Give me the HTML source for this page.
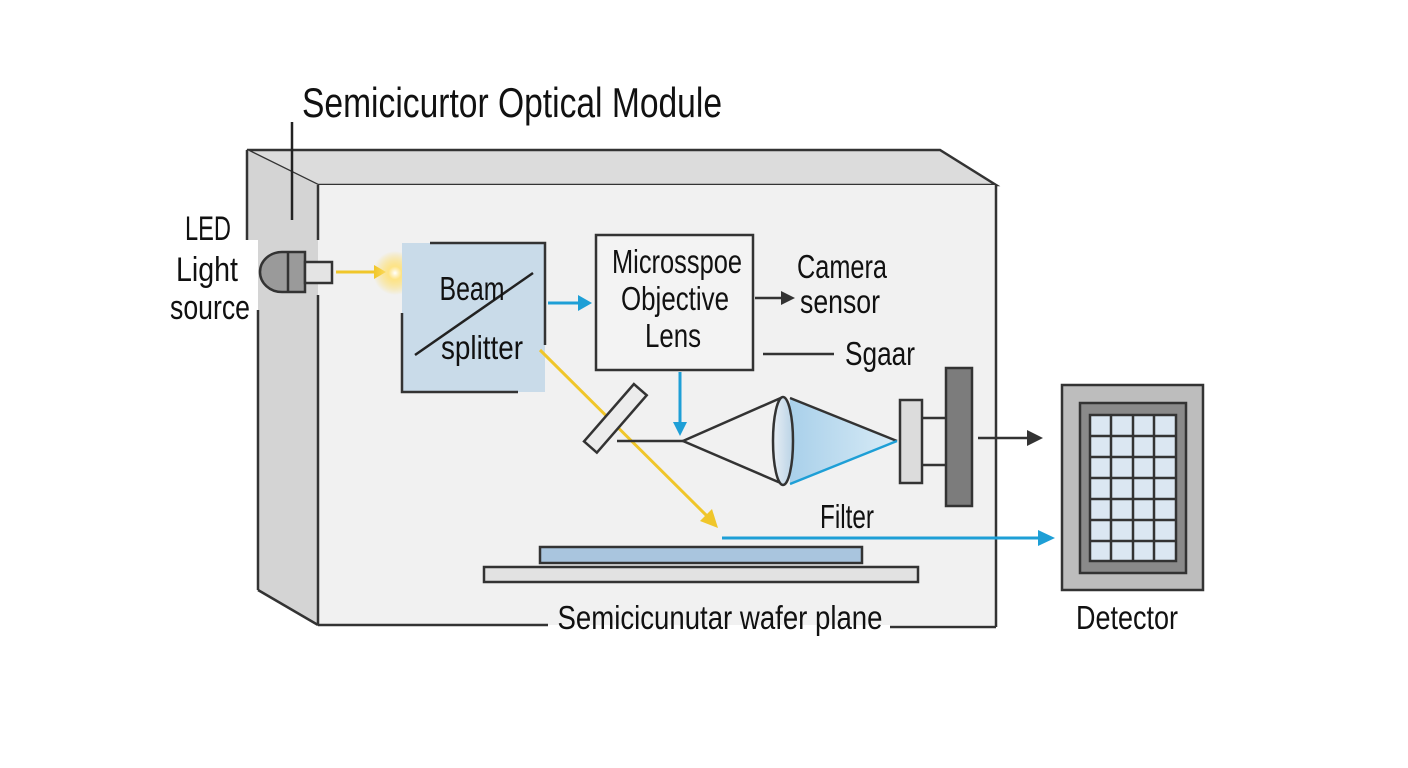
<!DOCTYPE html>
<html><head><meta charset="utf-8"><style>
html,body{margin:0;padding:0;background:#fff;}
svg{display:block;}
text{font-family:"Liberation Sans",sans-serif;fill:#111;}
</style></head><body>
<svg width="1408" height="768" viewBox="0 0 1408 768" xmlns="http://www.w3.org/2000/svg">
<defs>
<radialGradient id="glow" cx="0.5" cy="0.5" r="0.5">
<stop offset="0" stop-color="#fff"/><stop offset="0.3" stop-color="#ffe27a" stop-opacity="0.9"/><stop offset="1" stop-color="#ffd84a" stop-opacity="0"/>
</radialGradient>
<linearGradient id="cone" x1="0" x2="1"><stop offset="0" stop-color="#a9d0ea"/><stop offset="1" stop-color="#d8ebf6"/></linearGradient>
<linearGradient id="lens" x1="0" x2="1"><stop offset="0" stop-color="#e8eef4"/><stop offset="1" stop-color="#b9d3e6"/></linearGradient>
</defs>
<polygon points="247,150 940,150 996,185 318,185" fill="#dcdcdc" stroke="#333" stroke-width="2.5"/>
<polygon points="247,150 318,185 318,625 258,590 258,240 247,240" fill="#d4d4d4"/>
<line x1="247" y1="150" x2="247" y2="240" stroke="#333" stroke-width="2.5"/>
<line x1="258" y1="310" x2="258" y2="590" stroke="#333" stroke-width="2.5"/>
<line x1="258" y1="590" x2="318" y2="625" stroke="#333" stroke-width="2.5"/>
<rect x="318" y="185" width="678" height="440" fill="#f1f1f1"/>
<line x1="318" y1="185" x2="318" y2="240" stroke="#333" stroke-width="2.5"/>
<line x1="318" y1="295" x2="318" y2="625" stroke="#333" stroke-width="2.5"/>
<line x1="996" y1="185" x2="996" y2="627" stroke="#333" stroke-width="2.5"/>
<line x1="318" y1="625" x2="548" y2="625" stroke="#333" stroke-width="2.5"/>
<line x1="890" y1="627" x2="996" y2="627" stroke="#333" stroke-width="2.5"/>
<line x1="292" y1="122" x2="292" y2="220" stroke="#222" stroke-width="2.5"/>
<text x="302" y="117" font-size="42" textLength="420" lengthAdjust="spacingAndGlyphs">Semicicurtor Optical Module</text>
<rect x="165" y="240" width="93" height="70" fill="#fff"/>
<text x="208" y="240" font-size="34" text-anchor="middle" textLength="46" lengthAdjust="spacingAndGlyphs">LED</text>
<text x="207" y="281" font-size="34" text-anchor="middle" textLength="62" lengthAdjust="spacingAndGlyphs">Light</text>
<text x="210" y="319" font-size="34" text-anchor="middle" textLength="80" lengthAdjust="spacingAndGlyphs">source</text>
<path d="M305,252 L282,252 A22,20 0 0 0 282,292 L305,292 Z" fill="#9a9a9a" stroke="#333" stroke-width="2.5"/>
<line x1="288" y1="252" x2="288" y2="292" stroke="#333" stroke-width="2.5"/>
<rect x="305" y="262" width="27" height="21" fill="#e4e4e4" stroke="#333" stroke-width="2.5"/>
<line x1="336" y1="272" x2="376" y2="272" stroke="#f0c62a" stroke-width="3"/>
<polygon points="386,272 374,265 374,279" fill="#f0c62a"/>
<circle cx="395" cy="273" r="22" fill="url(#glow)"/>
<rect x="402" y="243" width="143" height="149" fill="#c9dbe9"/>
<polyline points="430,243 545,243 545,345" fill="none" stroke="#333" stroke-width="2.5"/>
<polyline points="402,313 402,392 518,392" fill="none" stroke="#333" stroke-width="2.5"/>
<line x1="415" y1="355" x2="533" y2="273" stroke="#222" stroke-width="2.5"/>
<text x="472" y="300" font-size="33" text-anchor="middle" textLength="65" lengthAdjust="spacingAndGlyphs">Beam</text>
<text x="482" y="359" font-size="33" text-anchor="middle" textLength="82" lengthAdjust="spacingAndGlyphs">splitter</text>
<line x1="548" y1="303" x2="580" y2="303" stroke="#1e9fd6" stroke-width="3"/>
<polygon points="592,303 578,295 578,311" fill="#1e9fd6"/>
<rect x="596" y="235" width="157" height="135" fill="#f3f3f3" stroke="#333" stroke-width="2.5"/>
<text x="677" y="273" font-size="33" text-anchor="middle" textLength="130" lengthAdjust="spacingAndGlyphs">Microsspoe</text>
<text x="675" y="310" font-size="33" text-anchor="middle" textLength="108" lengthAdjust="spacingAndGlyphs">Objective</text>
<text x="673" y="347" font-size="33" text-anchor="middle" textLength="56" lengthAdjust="spacingAndGlyphs">Lens</text>
<line x1="755" y1="298" x2="783" y2="298" stroke="#333" stroke-width="2.5"/>
<polygon points="795,298 781,291 781,305" fill="#333"/>
<text x="797" y="278" font-size="33" textLength="90" lengthAdjust="spacingAndGlyphs">Camera</text>
<text x="800" y="313" font-size="33" textLength="80" lengthAdjust="spacingAndGlyphs">sensor</text>
<line x1="763" y1="354" x2="834" y2="354" stroke="#333" stroke-width="2.5"/>
<text x="845" y="365" font-size="33" textLength="70" lengthAdjust="spacingAndGlyphs">Sgaar</text>
<line x1="540" y1="350" x2="708" y2="517" stroke="#f0c62a" stroke-width="3"/>
<polygon points="718,528 700,521 712,509" fill="#f0c62a"/>
<rect x="-8" y="-38" width="17" height="76" fill="#ececec" stroke="#333" stroke-width="2.5" transform="translate(615,418) rotate(41)"/>
<line x1="617" y1="441" x2="683" y2="441" stroke="#333" stroke-width="2.5"/>
<line x1="680" y1="372" x2="680" y2="424" stroke="#1e9fd6" stroke-width="3"/>
<polygon points="680,436 673,422 687,422" fill="#1e9fd6"/>
<polygon points="790,398 897,441 790,484" fill="url(#cone)"/>
<line x1="790" y1="398" x2="897" y2="441" stroke="#333" stroke-width="2.5"/>
<line x1="790" y1="484" x2="897" y2="441" stroke="#1e9fd6" stroke-width="2.5"/>
<polyline points="783,397 683,441 783,484" fill="none" stroke="#333" stroke-width="2.5"/>
<ellipse cx="783" cy="441" rx="10" ry="44" fill="url(#lens)" stroke="#333" stroke-width="2.5"/>
<rect x="900" y="400" width="22" height="83" fill="#dcdcdc" stroke="#333" stroke-width="2.5"/>
<line x1="922" y1="418" x2="946" y2="418" stroke="#333" stroke-width="2.5"/>
<line x1="922" y1="465" x2="946" y2="465" stroke="#333" stroke-width="2.5"/>
<rect x="946" y="368" width="26" height="138" fill="#7c7c7c" stroke="#333" stroke-width="2.5"/>
<line x1="978" y1="438" x2="1028" y2="438" stroke="#333" stroke-width="2.5"/>
<polygon points="1043,438 1027,430 1027,446" fill="#333"/>
<text x="820" y="528" font-size="33" textLength="54" lengthAdjust="spacingAndGlyphs">Filter</text>
<line x1="722" y1="538" x2="1040" y2="538" stroke="#1e9fd6" stroke-width="3"/>
<polygon points="1055,538 1038,530 1038,546" fill="#1e9fd6"/>
<rect x="540" y="547" width="322" height="16" fill="#a9c5de" stroke="#333" stroke-width="2.5"/>
<rect x="484" y="567" width="434" height="15" fill="#e2e2e2" stroke="#333" stroke-width="2.5"/>
<text x="720" y="629" font-size="33" text-anchor="middle" textLength="325" lengthAdjust="spacingAndGlyphs">Semicicunutar wafer plane</text>
<rect x="1062" y="385" width="141" height="205" fill="#bdbdbd" stroke="#333" stroke-width="2.5"/>
<rect x="1080" y="403" width="106" height="170" fill="#8a8a8a" stroke="#333" stroke-width="2.5"/>
<rect x="1090" y="415" width="86" height="146" fill="#dbe7f2" stroke="#333" stroke-width="2.5"/>
<g stroke="#333" stroke-width="2.5">
<line x1="1111" y1="415" x2="1111" y2="561"/><line x1="1133" y1="415" x2="1133" y2="561"/><line x1="1154" y1="415" x2="1154" y2="561"/>
<line x1="1090" y1="436" x2="1176" y2="436"/><line x1="1090" y1="457" x2="1176" y2="457"/><line x1="1090" y1="478" x2="1176" y2="478"/>
<line x1="1090" y1="499" x2="1176" y2="499"/><line x1="1090" y1="520" x2="1176" y2="520"/><line x1="1090" y1="541" x2="1176" y2="541"/>
</g>
<text x="1127" y="629" font-size="33" text-anchor="middle" textLength="102" lengthAdjust="spacingAndGlyphs">Detector</text>
</svg>
</body></html>
